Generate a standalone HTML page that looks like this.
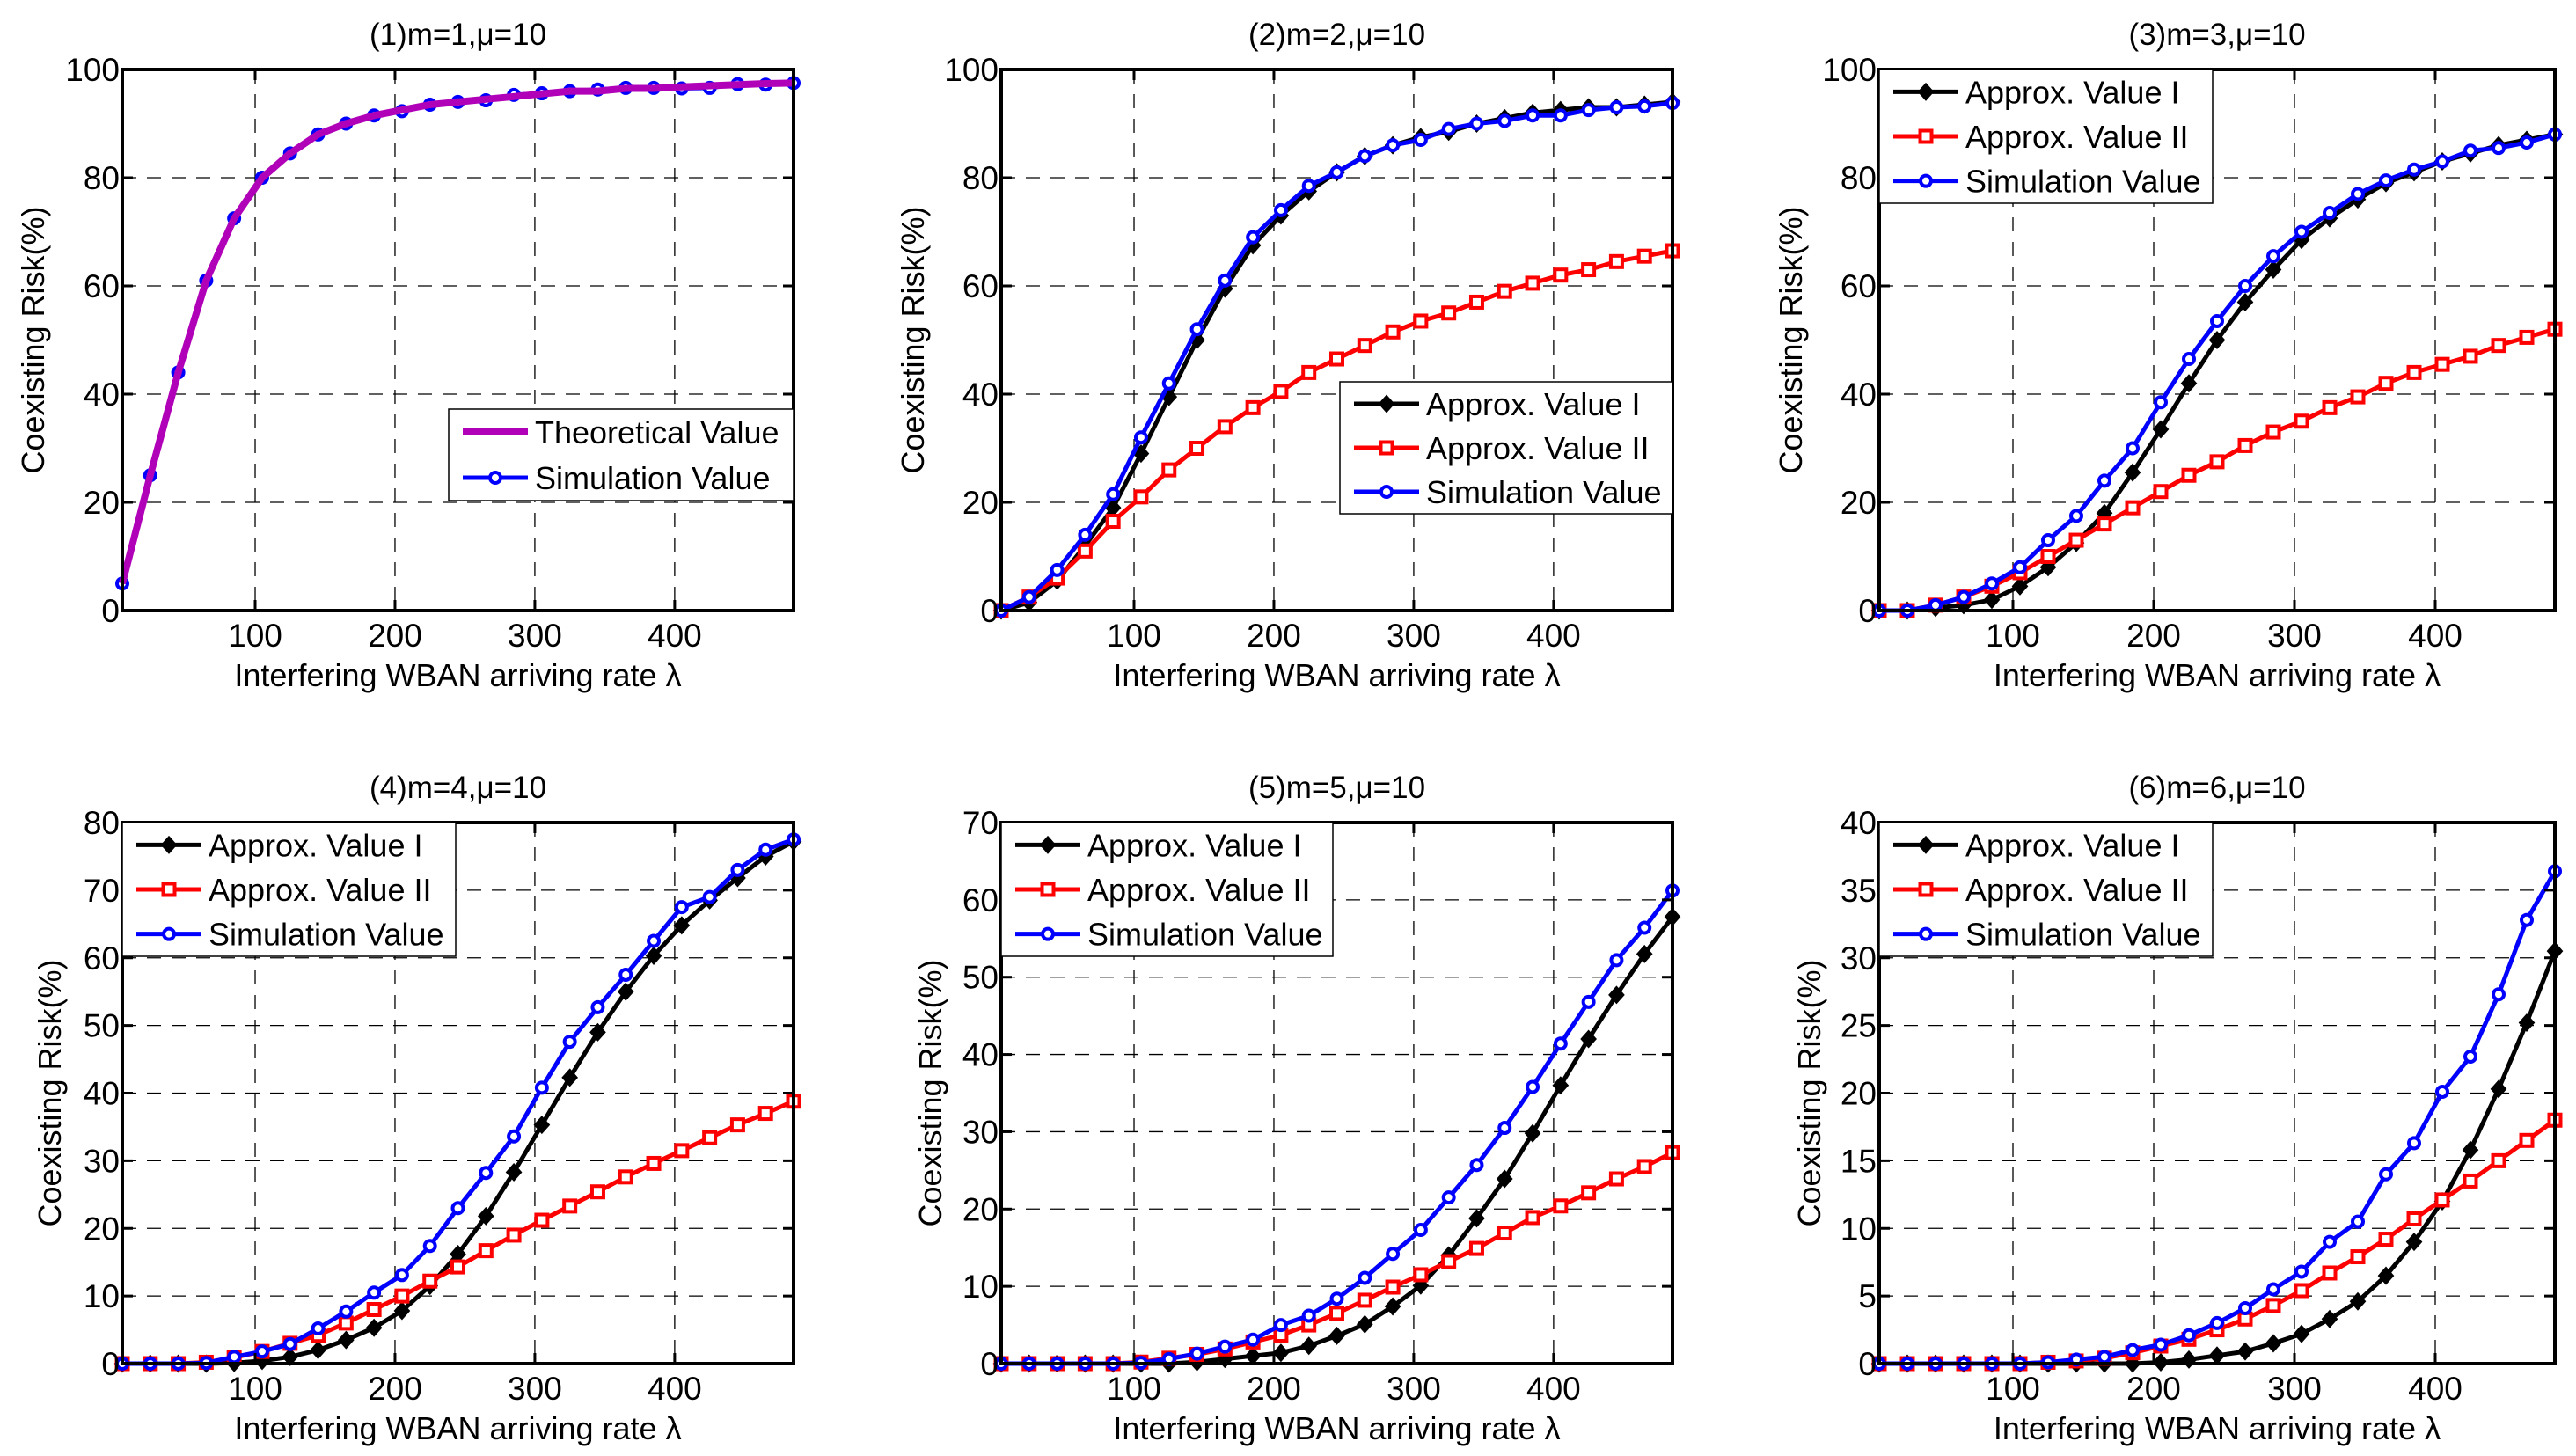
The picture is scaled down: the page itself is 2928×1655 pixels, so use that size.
<!DOCTYPE html>
<html><head><meta charset="utf-8"><style>
html,body{margin:0;padding:0;background:#fff;}
svg{display:block;font-family:"Liberation Sans",Arial,sans-serif;}
</style></head><body>
<svg id="fig" width="2928" height="1655" viewBox="0 0 2928 1655" xmlns="http://www.w3.org/2000/svg"></svg>
<script>
const xValues = [5,25,45,65,85,105,125,145,165,185,205,225,245,265,285,305,325,345,365,385,405,425,445,465,485];
const xTicks = [100,200,300,400];
const p1Theory = [5,25,44,61,72.5,80,84.5,88,90,91.5,92.5,93.5,94,94.5,95,95.5,96,96,96.5,96.5,96.8,97,97.2,97.4,97.5];
const p1Sim = [5,25,44,61,72.5,80,84.5,88,90,91.5,92.3,93.5,94,94.3,95.3,95.6,96,96.3,96.6,96.6,96.5,96.6,97.3,97.2,97.5];
const p2Sim = [0,2.5,7.5,14,21.5,32,42,52,61,69,74,78.5,81,84,86,87,89,90,90.5,91.5,91.5,92.5,93,93.2,93.8];
const p2A1 = [0,1.5,5.5,12,19,29,39.5,50,59.5,67.5,73,77.5,81,84,86,87.5,88.5,90,91,92,92.5,93,93,93.5,94];
const p2A2 = [0,2.5,6,11,16.5,21,26,30,34,37.5,40.5,44,46.5,49,51.5,53.5,55,57,59,60.5,62,63,64.5,65.5,66.5];
const p3Sim = [0,0,1,2.5,5,8,13,17.5,24,30,38.5,46.5,53.5,60,65.5,70,73.5,77,79.5,81.5,83,85,85.5,86.5,88];
const p3A1 = [0,0,0.5,1,2,4.5,8,12.5,18,25.5,33.5,42,50,57,63,68.5,72.5,76,79,81,83,84.5,86,87,88];
const p3A2 = [0,0,1,2.5,4.5,7,10,13,16,19,22,25,27.5,30.5,33,35,37.5,39.5,42,44,45.5,47,49,50.5,52];
const p4Sim = [0,0,0,0.1,1,1.8,2.9,5.2,7.7,10.5,13.1,17.4,23,28.2,33.6,40.8,47.6,52.7,57.5,62.5,67.5,69,73,76,77.5];
const p4A1 = [0,0,0,0,0.1,0.4,1,2,3.5,5.3,7.8,11.5,16.2,21.8,28.3,35.3,42.3,49,55,60.3,64.8,68.5,71.8,75,77.2];
const p4A2 = [0,0,0,0.2,0.9,1.8,3,4.2,6,8,10,12.2,14.3,16.7,19,21.2,23.3,25.4,27.6,29.6,31.5,33.4,35.3,37,38.8];
const p5Sim = [0,0,0,0,0,0.1,0.6,1.3,2.2,3.1,5,6.2,8.4,11.1,14.2,17.3,21.5,25.7,30.5,35.8,41.4,46.8,52.2,56.4,61.2];
const p5A1 = [0,0,0,0,0,0,0,0.2,0.6,1,1.4,2.3,3.6,5.1,7.4,10.1,14,18.8,23.9,29.8,36,42,47.7,53,57.8];
const p5A2 = [0,0,0,0,0,0.2,0.7,1.2,1.9,2.8,3.7,5,6.5,8.2,9.9,11.5,13.2,14.9,16.9,18.9,20.4,22.1,23.9,25.5,27.3];
const p6Sim = [0,0,0,0,0,0,0.1,0.3,0.5,1,1.4,2.1,3,4.1,5.5,6.8,9,10.5,14,16.3,20.1,22.7,27.3,32.8,36.4];
const p6A1 = [0,0,0,0,0,0,0,0,0,0,0.1,0.3,0.6,0.9,1.5,2.2,3.3,4.6,6.5,9,12,15.8,20.3,25.2,30.5];
const p6A2 = [0,0,0,0,0,0,0.1,0.2,0.4,0.8,1.3,1.8,2.5,3.3,4.3,5.4,6.7,7.9,9.2,10.7,12.1,13.5,15,16.5,18];
const yTicks100 = [0,20,40,60,80,100];
const yTicks80 = [0,10,20,30,40,50,60,70,80];
const yTicks70 = [0,10,20,30,40,50,60,70];
const yTicks40 = [0,5,10,15,20,25,30,35,40];

const NS='http://www.w3.org/2000/svg';
const svg=document.getElementById('fig');
function mk(tag,attrs,parent){const e=document.createElementNS(NS,tag);for(const k in attrs)e.setAttribute(k,attrs[k]);(parent||svg).appendChild(e);return e;}

const panels=[
 {title:'(1)m=1,μ=10',L:139,R:902,T:79,B:694,ymax:100,yt:yTicks100,yl:101,
  series:[{name:'Theoretical Value',d:p1Theory,c:'#b000b8',m:'none',w:8},{name:'Simulation Value',d:p1Sim,c:'#0000ff',m:'circle',w:5}],
  leg:[510,465,392,104],drawOrder:[1,0]},
 {title:'(2)m=2,μ=10',L:1138,R:1901,T:79,B:694,ymax:100,yt:yTicks100,yl:100,
  series:[{name:'Approx. Value I',d:p2A1,c:'#000',m:'diamond',w:5},{name:'Approx. Value II',d:p2A2,c:'#ff0000',m:'square',w:5},{name:'Simulation Value',d:p2Sim,c:'#0000ff',m:'circle',w:5}],
  leg:[1523,434,378,150]},
 {title:'(3)m=3,μ=10',L:2136,R:2904,T:79,B:694,ymax:100,yt:yTicks100,yl:100,
  series:[{name:'Approx. Value I',d:p3A1,c:'#000',m:'diamond',w:5},{name:'Approx. Value II',d:p3A2,c:'#ff0000',m:'square',w:5},{name:'Simulation Value',d:p3Sim,c:'#0000ff',m:'circle',w:5}],
  leg:[2136,79,379,152]},
 {title:'(4)m=4,μ=10',L:139,R:902,T:935,B:1550,ymax:80,yt:yTicks80,yl:82,
  series:[{name:'Approx. Value I',d:p4A1,c:'#000',m:'diamond',w:5},{name:'Approx. Value II',d:p4A2,c:'#ff0000',m:'square',w:5},{name:'Simulation Value',d:p4Sim,c:'#0000ff',m:'circle',w:5}],
  leg:[139,935,379,152]},
 {title:'(5)m=5,μ=10',L:1138,R:1901,T:935,B:1550,ymax:70,yt:yTicks70,yl:80,
  series:[{name:'Approx. Value I',d:p5A1,c:'#000',m:'diamond',w:5},{name:'Approx. Value II',d:p5A2,c:'#ff0000',m:'square',w:5},{name:'Simulation Value',d:p5Sim,c:'#0000ff',m:'circle',w:5}],
  leg:[1138,935,377,152]},
 {title:'(6)m=6,μ=10',L:2136,R:2904,T:935,B:1550,ymax:40,yt:yTicks40,yl:79,
  series:[{name:'Approx. Value I',d:p6A1,c:'#000',m:'diamond',w:5},{name:'Approx. Value II',d:p6A2,c:'#ff0000',m:'square',w:5},{name:'Simulation Value',d:p6Sim,c:'#0000ff',m:'circle',w:5}],
  leg:[2136,935,379,152]}
];

function marker(g,type,x,y,c){
  let e;
  if(type==='circle'){e=mk('circle',{cx:x,cy:y,r:6,fill:'#fff',stroke:c,'stroke-width':4},g);}
  else if(type==='square'){e=mk('rect',{x:x-6.5,y:y-6.5,width:13,height:13,fill:'#fff',stroke:c,'stroke-width':4},g);}
  else if(type==='diamond'){e=mk('polygon',{points:`${x},${y-9} ${x+8},${y} ${x},${y+9} ${x-8},${y}`,fill:c,stroke:c,'stroke-width':2},g);}
  if(e){}
}

panels.forEach((p,pi)=>{
  const g=mk('g',{});
  
  
  const xs=v=>p.L+(v-5)/480*(p.R-p.L);
  const ys=v=>p.B-v/p.ymax*(p.B-p.T);
  xTicks.forEach(t=>{const l=mk('line',{x1:xs(t),x2:xs(t),y1:p.T,y2:p.B,stroke:'#000','stroke-width':1.3,'stroke-dasharray':'16,12'},g);});
  p.yt.forEach(t=>{if(t>0&&t<p.ymax){const l=mk('line',{x1:p.L,x2:p.R,y1:ys(t),y2:ys(t),stroke:'#000','stroke-width':1.3,'stroke-dasharray':'16,12'},g);}});
  const order=p.drawOrder||p.series.map((_,i)=>i);
  order.forEach(si=>{const s=p.series[si];
    const pts=s.d.map((v,i)=>xs(xValues[i]).toFixed(1)+','+ys(v).toFixed(1)).join(' ');
    const pl=mk('polyline',{points:pts,fill:'none',stroke:s.c,'stroke-width':s.w,'stroke-linejoin':'round'},g);
    
    
    if(s.m!=='none') s.d.forEach((v,i)=>marker(g,s.m,xs(xValues[i]),ys(v),s.c));
  });
  const box=mk('rect',{x:p.L,y:p.T,width:p.R-p.L,height:p.B-p.T,fill:'none',stroke:'#000','stroke-width':4},g);
  
  
  xTicks.forEach(t=>{
    mk('line',{x1:xs(t),x2:xs(t),y1:p.B,y2:p.B-12,stroke:'#000','stroke-width':3},g);
    mk('line',{x1:xs(t),x2:xs(t),y1:p.T,y2:p.T+12,stroke:'#000','stroke-width':3},g);
    const tx=mk('text',{x:xs(t),y:p.B+41,'font-size':37,'text-anchor':'middle'},g);
    tx.textContent=t;
    
    
  });
  p.yt.forEach(t=>{
    mk('line',{x1:p.L,x2:p.L+12,y1:ys(t),y2:ys(t),stroke:'#000','stroke-width':3},g);
    mk('line',{x1:p.R,x2:p.R-12,y1:ys(t),y2:ys(t),stroke:'#000','stroke-width':3},g);
    const ty=mk('text',{x:p.L-3,y:ys(t)+13,'font-size':37,'text-anchor':'end'},g);
    ty.textContent=t;
    
    
  });
  const tt=mk('text',{x:(p.L+p.R)/2,y:p.T-28,'font-size':35,'text-anchor':'middle'},g);
  tt.textContent=p.title;
  
  
  const xl=mk('text',{x:(p.L+p.R)/2,y:p.B+86,'font-size':36,'text-anchor':'middle'},g);
  xl.textContent='Interfering WBAN arriving rate λ';
  
  
  const cy=(p.T+p.B)/2, cx=p.L-p.yl+12;
  const yl=mk('text',{x:cx,y:cy,'font-size':36,'text-anchor':'middle',transform:`rotate(-90 ${cx} ${cy})`},g);
  yl.textContent='Coexisting Risk(%)';
  
  
  const [lx,ly,lw,lh]=p.leg;
  const lg=mk('g',{},g);
  
  
  mk('rect',{x:lx,y:ly,width:lw,height:lh,fill:'#fff',stroke:'#000','stroke-width':1.5},lg);
  const n=p.series.length;
  p.series.forEach((s,i)=>{
    const ry=ly+lh*(2*i+1)/(2*n);
    const e=mk('g',{},lg);
    
    
    mk('line',{x1:lx+16,x2:lx+90,y1:ry,y2:ry,stroke:s.c,'stroke-width':s.w},e);
    if(s.m!=='none') marker(e,s.m,lx+53,ry,s.c);
    const t=mk('text',{x:lx+98,y:ry+13,'font-size':36},e);
    t.textContent=s.name;
  });
});
</script>
</body></html>
